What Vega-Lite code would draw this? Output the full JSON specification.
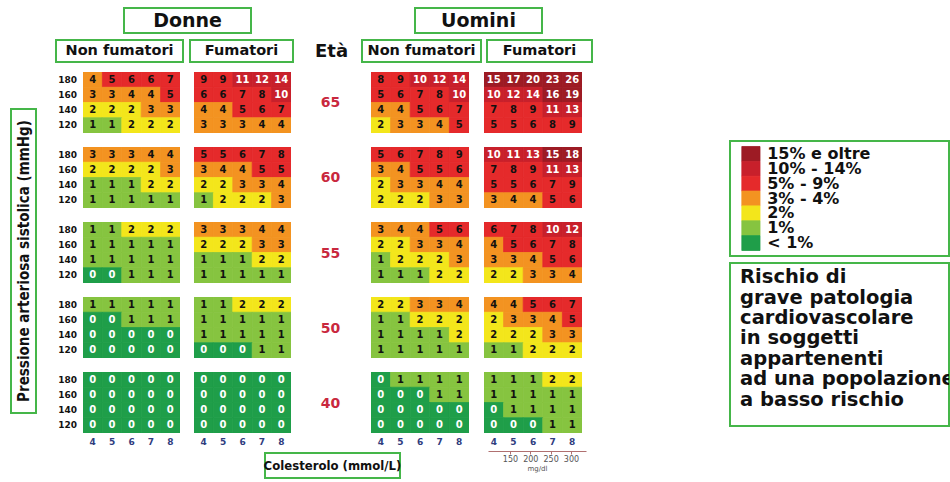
{
"$schema": "https://vega.github.io/schema/vega-lite/v6.json",
"background": "white",
"padding": {"left": 10, "top": 7, "right": 0, "bottom": 0},
"config": {"view": {"stroke": null}, "font": "DejaVu Sans"},
"datasets": {
"score": [
{"sesso":"Donne","fumo":"no","eta":65,"pas":180,"col":4,"rischio":4},{"sesso":"Donne","fumo":"no","eta":65,"pas":180,"col":5,"rischio":5},{"sesso":"Donne","fumo":"no","eta":65,"pas":180,"col":6,"rischio":6},{"sesso":"Donne","fumo":"no","eta":65,"pas":180,"col":7,"rischio":6},{"sesso":"Donne","fumo":"no","eta":65,"pas":180,"col":8,"rischio":7},
{"sesso":"Donne","fumo":"no","eta":65,"pas":160,"col":4,"rischio":3},{"sesso":"Donne","fumo":"no","eta":65,"pas":160,"col":5,"rischio":3},{"sesso":"Donne","fumo":"no","eta":65,"pas":160,"col":6,"rischio":4},{"sesso":"Donne","fumo":"no","eta":65,"pas":160,"col":7,"rischio":4},{"sesso":"Donne","fumo":"no","eta":65,"pas":160,"col":8,"rischio":5},
{"sesso":"Donne","fumo":"no","eta":65,"pas":140,"col":4,"rischio":2},{"sesso":"Donne","fumo":"no","eta":65,"pas":140,"col":5,"rischio":2},{"sesso":"Donne","fumo":"no","eta":65,"pas":140,"col":6,"rischio":2},{"sesso":"Donne","fumo":"no","eta":65,"pas":140,"col":7,"rischio":3},{"sesso":"Donne","fumo":"no","eta":65,"pas":140,"col":8,"rischio":3},
{"sesso":"Donne","fumo":"no","eta":65,"pas":120,"col":4,"rischio":1},{"sesso":"Donne","fumo":"no","eta":65,"pas":120,"col":5,"rischio":1},{"sesso":"Donne","fumo":"no","eta":65,"pas":120,"col":6,"rischio":2},{"sesso":"Donne","fumo":"no","eta":65,"pas":120,"col":7,"rischio":2},{"sesso":"Donne","fumo":"no","eta":65,"pas":120,"col":8,"rischio":2},
{"sesso":"Donne","fumo":"no","eta":60,"pas":180,"col":4,"rischio":3},{"sesso":"Donne","fumo":"no","eta":60,"pas":180,"col":5,"rischio":3},{"sesso":"Donne","fumo":"no","eta":60,"pas":180,"col":6,"rischio":3},{"sesso":"Donne","fumo":"no","eta":60,"pas":180,"col":7,"rischio":4},{"sesso":"Donne","fumo":"no","eta":60,"pas":180,"col":8,"rischio":4},
{"sesso":"Donne","fumo":"no","eta":60,"pas":160,"col":4,"rischio":2},{"sesso":"Donne","fumo":"no","eta":60,"pas":160,"col":5,"rischio":2},{"sesso":"Donne","fumo":"no","eta":60,"pas":160,"col":6,"rischio":2},{"sesso":"Donne","fumo":"no","eta":60,"pas":160,"col":7,"rischio":2},{"sesso":"Donne","fumo":"no","eta":60,"pas":160,"col":8,"rischio":3},
{"sesso":"Donne","fumo":"no","eta":60,"pas":140,"col":4,"rischio":1},{"sesso":"Donne","fumo":"no","eta":60,"pas":140,"col":5,"rischio":1},{"sesso":"Donne","fumo":"no","eta":60,"pas":140,"col":6,"rischio":1},{"sesso":"Donne","fumo":"no","eta":60,"pas":140,"col":7,"rischio":2},{"sesso":"Donne","fumo":"no","eta":60,"pas":140,"col":8,"rischio":2},
{"sesso":"Donne","fumo":"no","eta":60,"pas":120,"col":4,"rischio":1},{"sesso":"Donne","fumo":"no","eta":60,"pas":120,"col":5,"rischio":1},{"sesso":"Donne","fumo":"no","eta":60,"pas":120,"col":6,"rischio":1},{"sesso":"Donne","fumo":"no","eta":60,"pas":120,"col":7,"rischio":1},{"sesso":"Donne","fumo":"no","eta":60,"pas":120,"col":8,"rischio":1},
{"sesso":"Donne","fumo":"no","eta":55,"pas":180,"col":4,"rischio":1},{"sesso":"Donne","fumo":"no","eta":55,"pas":180,"col":5,"rischio":1},{"sesso":"Donne","fumo":"no","eta":55,"pas":180,"col":6,"rischio":2},{"sesso":"Donne","fumo":"no","eta":55,"pas":180,"col":7,"rischio":2},{"sesso":"Donne","fumo":"no","eta":55,"pas":180,"col":8,"rischio":2},
{"sesso":"Donne","fumo":"no","eta":55,"pas":160,"col":4,"rischio":1},{"sesso":"Donne","fumo":"no","eta":55,"pas":160,"col":5,"rischio":1},{"sesso":"Donne","fumo":"no","eta":55,"pas":160,"col":6,"rischio":1},{"sesso":"Donne","fumo":"no","eta":55,"pas":160,"col":7,"rischio":1},{"sesso":"Donne","fumo":"no","eta":55,"pas":160,"col":8,"rischio":1},
{"sesso":"Donne","fumo":"no","eta":55,"pas":140,"col":4,"rischio":1},{"sesso":"Donne","fumo":"no","eta":55,"pas":140,"col":5,"rischio":1},{"sesso":"Donne","fumo":"no","eta":55,"pas":140,"col":6,"rischio":1},{"sesso":"Donne","fumo":"no","eta":55,"pas":140,"col":7,"rischio":1},{"sesso":"Donne","fumo":"no","eta":55,"pas":140,"col":8,"rischio":1},
{"sesso":"Donne","fumo":"no","eta":55,"pas":120,"col":4,"rischio":0},{"sesso":"Donne","fumo":"no","eta":55,"pas":120,"col":5,"rischio":0},{"sesso":"Donne","fumo":"no","eta":55,"pas":120,"col":6,"rischio":1},{"sesso":"Donne","fumo":"no","eta":55,"pas":120,"col":7,"rischio":1},{"sesso":"Donne","fumo":"no","eta":55,"pas":120,"col":8,"rischio":1},
{"sesso":"Donne","fumo":"no","eta":50,"pas":180,"col":4,"rischio":1},{"sesso":"Donne","fumo":"no","eta":50,"pas":180,"col":5,"rischio":1},{"sesso":"Donne","fumo":"no","eta":50,"pas":180,"col":6,"rischio":1},{"sesso":"Donne","fumo":"no","eta":50,"pas":180,"col":7,"rischio":1},{"sesso":"Donne","fumo":"no","eta":50,"pas":180,"col":8,"rischio":1},
{"sesso":"Donne","fumo":"no","eta":50,"pas":160,"col":4,"rischio":0},{"sesso":"Donne","fumo":"no","eta":50,"pas":160,"col":5,"rischio":0},{"sesso":"Donne","fumo":"no","eta":50,"pas":160,"col":6,"rischio":1},{"sesso":"Donne","fumo":"no","eta":50,"pas":160,"col":7,"rischio":1},{"sesso":"Donne","fumo":"no","eta":50,"pas":160,"col":8,"rischio":1},
{"sesso":"Donne","fumo":"no","eta":50,"pas":140,"col":4,"rischio":0},{"sesso":"Donne","fumo":"no","eta":50,"pas":140,"col":5,"rischio":0},{"sesso":"Donne","fumo":"no","eta":50,"pas":140,"col":6,"rischio":0},{"sesso":"Donne","fumo":"no","eta":50,"pas":140,"col":7,"rischio":0},{"sesso":"Donne","fumo":"no","eta":50,"pas":140,"col":8,"rischio":0},
{"sesso":"Donne","fumo":"no","eta":50,"pas":120,"col":4,"rischio":0},{"sesso":"Donne","fumo":"no","eta":50,"pas":120,"col":5,"rischio":0},{"sesso":"Donne","fumo":"no","eta":50,"pas":120,"col":6,"rischio":0},{"sesso":"Donne","fumo":"no","eta":50,"pas":120,"col":7,"rischio":0},{"sesso":"Donne","fumo":"no","eta":50,"pas":120,"col":8,"rischio":0},
{"sesso":"Donne","fumo":"no","eta":40,"pas":180,"col":4,"rischio":0},{"sesso":"Donne","fumo":"no","eta":40,"pas":180,"col":5,"rischio":0},{"sesso":"Donne","fumo":"no","eta":40,"pas":180,"col":6,"rischio":0},{"sesso":"Donne","fumo":"no","eta":40,"pas":180,"col":7,"rischio":0},{"sesso":"Donne","fumo":"no","eta":40,"pas":180,"col":8,"rischio":0},
{"sesso":"Donne","fumo":"no","eta":40,"pas":160,"col":4,"rischio":0},{"sesso":"Donne","fumo":"no","eta":40,"pas":160,"col":5,"rischio":0},{"sesso":"Donne","fumo":"no","eta":40,"pas":160,"col":6,"rischio":0},{"sesso":"Donne","fumo":"no","eta":40,"pas":160,"col":7,"rischio":0},{"sesso":"Donne","fumo":"no","eta":40,"pas":160,"col":8,"rischio":0},
{"sesso":"Donne","fumo":"no","eta":40,"pas":140,"col":4,"rischio":0},{"sesso":"Donne","fumo":"no","eta":40,"pas":140,"col":5,"rischio":0},{"sesso":"Donne","fumo":"no","eta":40,"pas":140,"col":6,"rischio":0},{"sesso":"Donne","fumo":"no","eta":40,"pas":140,"col":7,"rischio":0},{"sesso":"Donne","fumo":"no","eta":40,"pas":140,"col":8,"rischio":0},
{"sesso":"Donne","fumo":"no","eta":40,"pas":120,"col":4,"rischio":0},{"sesso":"Donne","fumo":"no","eta":40,"pas":120,"col":5,"rischio":0},{"sesso":"Donne","fumo":"no","eta":40,"pas":120,"col":6,"rischio":0},{"sesso":"Donne","fumo":"no","eta":40,"pas":120,"col":7,"rischio":0},{"sesso":"Donne","fumo":"no","eta":40,"pas":120,"col":8,"rischio":0},
{"sesso":"Donne","fumo":"sì","eta":65,"pas":180,"col":4,"rischio":9},{"sesso":"Donne","fumo":"sì","eta":65,"pas":180,"col":5,"rischio":9},{"sesso":"Donne","fumo":"sì","eta":65,"pas":180,"col":6,"rischio":11},{"sesso":"Donne","fumo":"sì","eta":65,"pas":180,"col":7,"rischio":12},{"sesso":"Donne","fumo":"sì","eta":65,"pas":180,"col":8,"rischio":14},
{"sesso":"Donne","fumo":"sì","eta":65,"pas":160,"col":4,"rischio":6},{"sesso":"Donne","fumo":"sì","eta":65,"pas":160,"col":5,"rischio":6},{"sesso":"Donne","fumo":"sì","eta":65,"pas":160,"col":6,"rischio":7},{"sesso":"Donne","fumo":"sì","eta":65,"pas":160,"col":7,"rischio":8},{"sesso":"Donne","fumo":"sì","eta":65,"pas":160,"col":8,"rischio":10},
{"sesso":"Donne","fumo":"sì","eta":65,"pas":140,"col":4,"rischio":4},{"sesso":"Donne","fumo":"sì","eta":65,"pas":140,"col":5,"rischio":4},{"sesso":"Donne","fumo":"sì","eta":65,"pas":140,"col":6,"rischio":5},{"sesso":"Donne","fumo":"sì","eta":65,"pas":140,"col":7,"rischio":6},{"sesso":"Donne","fumo":"sì","eta":65,"pas":140,"col":8,"rischio":7},
{"sesso":"Donne","fumo":"sì","eta":65,"pas":120,"col":4,"rischio":3},{"sesso":"Donne","fumo":"sì","eta":65,"pas":120,"col":5,"rischio":3},{"sesso":"Donne","fumo":"sì","eta":65,"pas":120,"col":6,"rischio":3},{"sesso":"Donne","fumo":"sì","eta":65,"pas":120,"col":7,"rischio":4},{"sesso":"Donne","fumo":"sì","eta":65,"pas":120,"col":8,"rischio":4},
{"sesso":"Donne","fumo":"sì","eta":60,"pas":180,"col":4,"rischio":5},{"sesso":"Donne","fumo":"sì","eta":60,"pas":180,"col":5,"rischio":5},{"sesso":"Donne","fumo":"sì","eta":60,"pas":180,"col":6,"rischio":6},{"sesso":"Donne","fumo":"sì","eta":60,"pas":180,"col":7,"rischio":7},{"sesso":"Donne","fumo":"sì","eta":60,"pas":180,"col":8,"rischio":8},
{"sesso":"Donne","fumo":"sì","eta":60,"pas":160,"col":4,"rischio":3},{"sesso":"Donne","fumo":"sì","eta":60,"pas":160,"col":5,"rischio":4},{"sesso":"Donne","fumo":"sì","eta":60,"pas":160,"col":6,"rischio":4},{"sesso":"Donne","fumo":"sì","eta":60,"pas":160,"col":7,"rischio":5},{"sesso":"Donne","fumo":"sì","eta":60,"pas":160,"col":8,"rischio":5},
{"sesso":"Donne","fumo":"sì","eta":60,"pas":140,"col":4,"rischio":2},{"sesso":"Donne","fumo":"sì","eta":60,"pas":140,"col":5,"rischio":2},{"sesso":"Donne","fumo":"sì","eta":60,"pas":140,"col":6,"rischio":3},{"sesso":"Donne","fumo":"sì","eta":60,"pas":140,"col":7,"rischio":3},{"sesso":"Donne","fumo":"sì","eta":60,"pas":140,"col":8,"rischio":4},
{"sesso":"Donne","fumo":"sì","eta":60,"pas":120,"col":4,"rischio":1},{"sesso":"Donne","fumo":"sì","eta":60,"pas":120,"col":5,"rischio":2},{"sesso":"Donne","fumo":"sì","eta":60,"pas":120,"col":6,"rischio":2},{"sesso":"Donne","fumo":"sì","eta":60,"pas":120,"col":7,"rischio":2},{"sesso":"Donne","fumo":"sì","eta":60,"pas":120,"col":8,"rischio":3},
{"sesso":"Donne","fumo":"sì","eta":55,"pas":180,"col":4,"rischio":3},{"sesso":"Donne","fumo":"sì","eta":55,"pas":180,"col":5,"rischio":3},{"sesso":"Donne","fumo":"sì","eta":55,"pas":180,"col":6,"rischio":3},{"sesso":"Donne","fumo":"sì","eta":55,"pas":180,"col":7,"rischio":4},{"sesso":"Donne","fumo":"sì","eta":55,"pas":180,"col":8,"rischio":4},
{"sesso":"Donne","fumo":"sì","eta":55,"pas":160,"col":4,"rischio":2},{"sesso":"Donne","fumo":"sì","eta":55,"pas":160,"col":5,"rischio":2},{"sesso":"Donne","fumo":"sì","eta":55,"pas":160,"col":6,"rischio":2},{"sesso":"Donne","fumo":"sì","eta":55,"pas":160,"col":7,"rischio":3},{"sesso":"Donne","fumo":"sì","eta":55,"pas":160,"col":8,"rischio":3},
{"sesso":"Donne","fumo":"sì","eta":55,"pas":140,"col":4,"rischio":1},{"sesso":"Donne","fumo":"sì","eta":55,"pas":140,"col":5,"rischio":1},{"sesso":"Donne","fumo":"sì","eta":55,"pas":140,"col":6,"rischio":1},{"sesso":"Donne","fumo":"sì","eta":55,"pas":140,"col":7,"rischio":2},{"sesso":"Donne","fumo":"sì","eta":55,"pas":140,"col":8,"rischio":2},
{"sesso":"Donne","fumo":"sì","eta":55,"pas":120,"col":4,"rischio":1},{"sesso":"Donne","fumo":"sì","eta":55,"pas":120,"col":5,"rischio":1},{"sesso":"Donne","fumo":"sì","eta":55,"pas":120,"col":6,"rischio":1},{"sesso":"Donne","fumo":"sì","eta":55,"pas":120,"col":7,"rischio":1},{"sesso":"Donne","fumo":"sì","eta":55,"pas":120,"col":8,"rischio":1},
{"sesso":"Donne","fumo":"sì","eta":50,"pas":180,"col":4,"rischio":1},{"sesso":"Donne","fumo":"sì","eta":50,"pas":180,"col":5,"rischio":1},{"sesso":"Donne","fumo":"sì","eta":50,"pas":180,"col":6,"rischio":2},{"sesso":"Donne","fumo":"sì","eta":50,"pas":180,"col":7,"rischio":2},{"sesso":"Donne","fumo":"sì","eta":50,"pas":180,"col":8,"rischio":2},
{"sesso":"Donne","fumo":"sì","eta":50,"pas":160,"col":4,"rischio":1},{"sesso":"Donne","fumo":"sì","eta":50,"pas":160,"col":5,"rischio":1},{"sesso":"Donne","fumo":"sì","eta":50,"pas":160,"col":6,"rischio":1},{"sesso":"Donne","fumo":"sì","eta":50,"pas":160,"col":7,"rischio":1},{"sesso":"Donne","fumo":"sì","eta":50,"pas":160,"col":8,"rischio":1},
{"sesso":"Donne","fumo":"sì","eta":50,"pas":140,"col":4,"rischio":1},{"sesso":"Donne","fumo":"sì","eta":50,"pas":140,"col":5,"rischio":1},{"sesso":"Donne","fumo":"sì","eta":50,"pas":140,"col":6,"rischio":1},{"sesso":"Donne","fumo":"sì","eta":50,"pas":140,"col":7,"rischio":1},{"sesso":"Donne","fumo":"sì","eta":50,"pas":140,"col":8,"rischio":1},
{"sesso":"Donne","fumo":"sì","eta":50,"pas":120,"col":4,"rischio":0},{"sesso":"Donne","fumo":"sì","eta":50,"pas":120,"col":5,"rischio":0},{"sesso":"Donne","fumo":"sì","eta":50,"pas":120,"col":6,"rischio":0},{"sesso":"Donne","fumo":"sì","eta":50,"pas":120,"col":7,"rischio":1},{"sesso":"Donne","fumo":"sì","eta":50,"pas":120,"col":8,"rischio":1},
{"sesso":"Donne","fumo":"sì","eta":40,"pas":180,"col":4,"rischio":0},{"sesso":"Donne","fumo":"sì","eta":40,"pas":180,"col":5,"rischio":0},{"sesso":"Donne","fumo":"sì","eta":40,"pas":180,"col":6,"rischio":0},{"sesso":"Donne","fumo":"sì","eta":40,"pas":180,"col":7,"rischio":0},{"sesso":"Donne","fumo":"sì","eta":40,"pas":180,"col":8,"rischio":0},
{"sesso":"Donne","fumo":"sì","eta":40,"pas":160,"col":4,"rischio":0},{"sesso":"Donne","fumo":"sì","eta":40,"pas":160,"col":5,"rischio":0},{"sesso":"Donne","fumo":"sì","eta":40,"pas":160,"col":6,"rischio":0},{"sesso":"Donne","fumo":"sì","eta":40,"pas":160,"col":7,"rischio":0},{"sesso":"Donne","fumo":"sì","eta":40,"pas":160,"col":8,"rischio":0},
{"sesso":"Donne","fumo":"sì","eta":40,"pas":140,"col":4,"rischio":0},{"sesso":"Donne","fumo":"sì","eta":40,"pas":140,"col":5,"rischio":0},{"sesso":"Donne","fumo":"sì","eta":40,"pas":140,"col":6,"rischio":0},{"sesso":"Donne","fumo":"sì","eta":40,"pas":140,"col":7,"rischio":0},{"sesso":"Donne","fumo":"sì","eta":40,"pas":140,"col":8,"rischio":0},
{"sesso":"Donne","fumo":"sì","eta":40,"pas":120,"col":4,"rischio":0},{"sesso":"Donne","fumo":"sì","eta":40,"pas":120,"col":5,"rischio":0},{"sesso":"Donne","fumo":"sì","eta":40,"pas":120,"col":6,"rischio":0},{"sesso":"Donne","fumo":"sì","eta":40,"pas":120,"col":7,"rischio":0},{"sesso":"Donne","fumo":"sì","eta":40,"pas":120,"col":8,"rischio":0},
{"sesso":"Uomini","fumo":"no","eta":65,"pas":180,"col":4,"rischio":8},{"sesso":"Uomini","fumo":"no","eta":65,"pas":180,"col":5,"rischio":9},{"sesso":"Uomini","fumo":"no","eta":65,"pas":180,"col":6,"rischio":10},{"sesso":"Uomini","fumo":"no","eta":65,"pas":180,"col":7,"rischio":12},{"sesso":"Uomini","fumo":"no","eta":65,"pas":180,"col":8,"rischio":14},
{"sesso":"Uomini","fumo":"no","eta":65,"pas":160,"col":4,"rischio":5},{"sesso":"Uomini","fumo":"no","eta":65,"pas":160,"col":5,"rischio":6},{"sesso":"Uomini","fumo":"no","eta":65,"pas":160,"col":6,"rischio":7},{"sesso":"Uomini","fumo":"no","eta":65,"pas":160,"col":7,"rischio":8},{"sesso":"Uomini","fumo":"no","eta":65,"pas":160,"col":8,"rischio":10},
{"sesso":"Uomini","fumo":"no","eta":65,"pas":140,"col":4,"rischio":4},{"sesso":"Uomini","fumo":"no","eta":65,"pas":140,"col":5,"rischio":4},{"sesso":"Uomini","fumo":"no","eta":65,"pas":140,"col":6,"rischio":5},{"sesso":"Uomini","fumo":"no","eta":65,"pas":140,"col":7,"rischio":6},{"sesso":"Uomini","fumo":"no","eta":65,"pas":140,"col":8,"rischio":7},
{"sesso":"Uomini","fumo":"no","eta":65,"pas":120,"col":4,"rischio":2},{"sesso":"Uomini","fumo":"no","eta":65,"pas":120,"col":5,"rischio":3},{"sesso":"Uomini","fumo":"no","eta":65,"pas":120,"col":6,"rischio":3},{"sesso":"Uomini","fumo":"no","eta":65,"pas":120,"col":7,"rischio":4},{"sesso":"Uomini","fumo":"no","eta":65,"pas":120,"col":8,"rischio":5},
{"sesso":"Uomini","fumo":"no","eta":60,"pas":180,"col":4,"rischio":5},{"sesso":"Uomini","fumo":"no","eta":60,"pas":180,"col":5,"rischio":6},{"sesso":"Uomini","fumo":"no","eta":60,"pas":180,"col":6,"rischio":7},{"sesso":"Uomini","fumo":"no","eta":60,"pas":180,"col":7,"rischio":8},{"sesso":"Uomini","fumo":"no","eta":60,"pas":180,"col":8,"rischio":9},
{"sesso":"Uomini","fumo":"no","eta":60,"pas":160,"col":4,"rischio":3},{"sesso":"Uomini","fumo":"no","eta":60,"pas":160,"col":5,"rischio":4},{"sesso":"Uomini","fumo":"no","eta":60,"pas":160,"col":6,"rischio":5},{"sesso":"Uomini","fumo":"no","eta":60,"pas":160,"col":7,"rischio":5},{"sesso":"Uomini","fumo":"no","eta":60,"pas":160,"col":8,"rischio":6},
{"sesso":"Uomini","fumo":"no","eta":60,"pas":140,"col":4,"rischio":2},{"sesso":"Uomini","fumo":"no","eta":60,"pas":140,"col":5,"rischio":3},{"sesso":"Uomini","fumo":"no","eta":60,"pas":140,"col":6,"rischio":3},{"sesso":"Uomini","fumo":"no","eta":60,"pas":140,"col":7,"rischio":4},{"sesso":"Uomini","fumo":"no","eta":60,"pas":140,"col":8,"rischio":4},
{"sesso":"Uomini","fumo":"no","eta":60,"pas":120,"col":4,"rischio":2},{"sesso":"Uomini","fumo":"no","eta":60,"pas":120,"col":5,"rischio":2},{"sesso":"Uomini","fumo":"no","eta":60,"pas":120,"col":6,"rischio":2},{"sesso":"Uomini","fumo":"no","eta":60,"pas":120,"col":7,"rischio":3},{"sesso":"Uomini","fumo":"no","eta":60,"pas":120,"col":8,"rischio":3},
{"sesso":"Uomini","fumo":"no","eta":55,"pas":180,"col":4,"rischio":3},{"sesso":"Uomini","fumo":"no","eta":55,"pas":180,"col":5,"rischio":4},{"sesso":"Uomini","fumo":"no","eta":55,"pas":180,"col":6,"rischio":4},{"sesso":"Uomini","fumo":"no","eta":55,"pas":180,"col":7,"rischio":5},{"sesso":"Uomini","fumo":"no","eta":55,"pas":180,"col":8,"rischio":6},
{"sesso":"Uomini","fumo":"no","eta":55,"pas":160,"col":4,"rischio":2},{"sesso":"Uomini","fumo":"no","eta":55,"pas":160,"col":5,"rischio":2},{"sesso":"Uomini","fumo":"no","eta":55,"pas":160,"col":6,"rischio":3},{"sesso":"Uomini","fumo":"no","eta":55,"pas":160,"col":7,"rischio":3},{"sesso":"Uomini","fumo":"no","eta":55,"pas":160,"col":8,"rischio":4},
{"sesso":"Uomini","fumo":"no","eta":55,"pas":140,"col":4,"rischio":1},{"sesso":"Uomini","fumo":"no","eta":55,"pas":140,"col":5,"rischio":2},{"sesso":"Uomini","fumo":"no","eta":55,"pas":140,"col":6,"rischio":2},{"sesso":"Uomini","fumo":"no","eta":55,"pas":140,"col":7,"rischio":2},{"sesso":"Uomini","fumo":"no","eta":55,"pas":140,"col":8,"rischio":3},
{"sesso":"Uomini","fumo":"no","eta":55,"pas":120,"col":4,"rischio":1},{"sesso":"Uomini","fumo":"no","eta":55,"pas":120,"col":5,"rischio":1},{"sesso":"Uomini","fumo":"no","eta":55,"pas":120,"col":6,"rischio":1},{"sesso":"Uomini","fumo":"no","eta":55,"pas":120,"col":7,"rischio":2},{"sesso":"Uomini","fumo":"no","eta":55,"pas":120,"col":8,"rischio":2},
{"sesso":"Uomini","fumo":"no","eta":50,"pas":180,"col":4,"rischio":2},{"sesso":"Uomini","fumo":"no","eta":50,"pas":180,"col":5,"rischio":2},{"sesso":"Uomini","fumo":"no","eta":50,"pas":180,"col":6,"rischio":3},{"sesso":"Uomini","fumo":"no","eta":50,"pas":180,"col":7,"rischio":3},{"sesso":"Uomini","fumo":"no","eta":50,"pas":180,"col":8,"rischio":4},
{"sesso":"Uomini","fumo":"no","eta":50,"pas":160,"col":4,"rischio":1},{"sesso":"Uomini","fumo":"no","eta":50,"pas":160,"col":5,"rischio":1},{"sesso":"Uomini","fumo":"no","eta":50,"pas":160,"col":6,"rischio":2},{"sesso":"Uomini","fumo":"no","eta":50,"pas":160,"col":7,"rischio":2},{"sesso":"Uomini","fumo":"no","eta":50,"pas":160,"col":8,"rischio":2},
{"sesso":"Uomini","fumo":"no","eta":50,"pas":140,"col":4,"rischio":1},{"sesso":"Uomini","fumo":"no","eta":50,"pas":140,"col":5,"rischio":1},{"sesso":"Uomini","fumo":"no","eta":50,"pas":140,"col":6,"rischio":1},{"sesso":"Uomini","fumo":"no","eta":50,"pas":140,"col":7,"rischio":1},{"sesso":"Uomini","fumo":"no","eta":50,"pas":140,"col":8,"rischio":2},
{"sesso":"Uomini","fumo":"no","eta":50,"pas":120,"col":4,"rischio":1},{"sesso":"Uomini","fumo":"no","eta":50,"pas":120,"col":5,"rischio":1},{"sesso":"Uomini","fumo":"no","eta":50,"pas":120,"col":6,"rischio":1},{"sesso":"Uomini","fumo":"no","eta":50,"pas":120,"col":7,"rischio":1},{"sesso":"Uomini","fumo":"no","eta":50,"pas":120,"col":8,"rischio":1},
{"sesso":"Uomini","fumo":"no","eta":40,"pas":180,"col":4,"rischio":0},{"sesso":"Uomini","fumo":"no","eta":40,"pas":180,"col":5,"rischio":1},{"sesso":"Uomini","fumo":"no","eta":40,"pas":180,"col":6,"rischio":1},{"sesso":"Uomini","fumo":"no","eta":40,"pas":180,"col":7,"rischio":1},{"sesso":"Uomini","fumo":"no","eta":40,"pas":180,"col":8,"rischio":1},
{"sesso":"Uomini","fumo":"no","eta":40,"pas":160,"col":4,"rischio":0},{"sesso":"Uomini","fumo":"no","eta":40,"pas":160,"col":5,"rischio":0},{"sesso":"Uomini","fumo":"no","eta":40,"pas":160,"col":6,"rischio":0},{"sesso":"Uomini","fumo":"no","eta":40,"pas":160,"col":7,"rischio":1},{"sesso":"Uomini","fumo":"no","eta":40,"pas":160,"col":8,"rischio":1},
{"sesso":"Uomini","fumo":"no","eta":40,"pas":140,"col":4,"rischio":0},{"sesso":"Uomini","fumo":"no","eta":40,"pas":140,"col":5,"rischio":0},{"sesso":"Uomini","fumo":"no","eta":40,"pas":140,"col":6,"rischio":0},{"sesso":"Uomini","fumo":"no","eta":40,"pas":140,"col":7,"rischio":0},{"sesso":"Uomini","fumo":"no","eta":40,"pas":140,"col":8,"rischio":0},
{"sesso":"Uomini","fumo":"no","eta":40,"pas":120,"col":4,"rischio":0},{"sesso":"Uomini","fumo":"no","eta":40,"pas":120,"col":5,"rischio":0},{"sesso":"Uomini","fumo":"no","eta":40,"pas":120,"col":6,"rischio":0},{"sesso":"Uomini","fumo":"no","eta":40,"pas":120,"col":7,"rischio":0},{"sesso":"Uomini","fumo":"no","eta":40,"pas":120,"col":8,"rischio":0},
{"sesso":"Uomini","fumo":"sì","eta":65,"pas":180,"col":4,"rischio":15},{"sesso":"Uomini","fumo":"sì","eta":65,"pas":180,"col":5,"rischio":17},{"sesso":"Uomini","fumo":"sì","eta":65,"pas":180,"col":6,"rischio":20},{"sesso":"Uomini","fumo":"sì","eta":65,"pas":180,"col":7,"rischio":23},{"sesso":"Uomini","fumo":"sì","eta":65,"pas":180,"col":8,"rischio":26},
{"sesso":"Uomini","fumo":"sì","eta":65,"pas":160,"col":4,"rischio":10},{"sesso":"Uomini","fumo":"sì","eta":65,"pas":160,"col":5,"rischio":12},{"sesso":"Uomini","fumo":"sì","eta":65,"pas":160,"col":6,"rischio":14},{"sesso":"Uomini","fumo":"sì","eta":65,"pas":160,"col":7,"rischio":16},{"sesso":"Uomini","fumo":"sì","eta":65,"pas":160,"col":8,"rischio":19},
{"sesso":"Uomini","fumo":"sì","eta":65,"pas":140,"col":4,"rischio":7},{"sesso":"Uomini","fumo":"sì","eta":65,"pas":140,"col":5,"rischio":8},{"sesso":"Uomini","fumo":"sì","eta":65,"pas":140,"col":6,"rischio":9},{"sesso":"Uomini","fumo":"sì","eta":65,"pas":140,"col":7,"rischio":11},{"sesso":"Uomini","fumo":"sì","eta":65,"pas":140,"col":8,"rischio":13},
{"sesso":"Uomini","fumo":"sì","eta":65,"pas":120,"col":4,"rischio":5},{"sesso":"Uomini","fumo":"sì","eta":65,"pas":120,"col":5,"rischio":5},{"sesso":"Uomini","fumo":"sì","eta":65,"pas":120,"col":6,"rischio":6},{"sesso":"Uomini","fumo":"sì","eta":65,"pas":120,"col":7,"rischio":8},{"sesso":"Uomini","fumo":"sì","eta":65,"pas":120,"col":8,"rischio":9},
{"sesso":"Uomini","fumo":"sì","eta":60,"pas":180,"col":4,"rischio":10},{"sesso":"Uomini","fumo":"sì","eta":60,"pas":180,"col":5,"rischio":11},{"sesso":"Uomini","fumo":"sì","eta":60,"pas":180,"col":6,"rischio":13},{"sesso":"Uomini","fumo":"sì","eta":60,"pas":180,"col":7,"rischio":15},{"sesso":"Uomini","fumo":"sì","eta":60,"pas":180,"col":8,"rischio":18},
{"sesso":"Uomini","fumo":"sì","eta":60,"pas":160,"col":4,"rischio":7},{"sesso":"Uomini","fumo":"sì","eta":60,"pas":160,"col":5,"rischio":8},{"sesso":"Uomini","fumo":"sì","eta":60,"pas":160,"col":6,"rischio":9},{"sesso":"Uomini","fumo":"sì","eta":60,"pas":160,"col":7,"rischio":11},{"sesso":"Uomini","fumo":"sì","eta":60,"pas":160,"col":8,"rischio":13},
{"sesso":"Uomini","fumo":"sì","eta":60,"pas":140,"col":4,"rischio":5},{"sesso":"Uomini","fumo":"sì","eta":60,"pas":140,"col":5,"rischio":5},{"sesso":"Uomini","fumo":"sì","eta":60,"pas":140,"col":6,"rischio":6},{"sesso":"Uomini","fumo":"sì","eta":60,"pas":140,"col":7,"rischio":7},{"sesso":"Uomini","fumo":"sì","eta":60,"pas":140,"col":8,"rischio":9},
{"sesso":"Uomini","fumo":"sì","eta":60,"pas":120,"col":4,"rischio":3},{"sesso":"Uomini","fumo":"sì","eta":60,"pas":120,"col":5,"rischio":4},{"sesso":"Uomini","fumo":"sì","eta":60,"pas":120,"col":6,"rischio":4},{"sesso":"Uomini","fumo":"sì","eta":60,"pas":120,"col":7,"rischio":5},{"sesso":"Uomini","fumo":"sì","eta":60,"pas":120,"col":8,"rischio":6},
{"sesso":"Uomini","fumo":"sì","eta":55,"pas":180,"col":4,"rischio":6},{"sesso":"Uomini","fumo":"sì","eta":55,"pas":180,"col":5,"rischio":7},{"sesso":"Uomini","fumo":"sì","eta":55,"pas":180,"col":6,"rischio":8},{"sesso":"Uomini","fumo":"sì","eta":55,"pas":180,"col":7,"rischio":10},{"sesso":"Uomini","fumo":"sì","eta":55,"pas":180,"col":8,"rischio":12},
{"sesso":"Uomini","fumo":"sì","eta":55,"pas":160,"col":4,"rischio":4},{"sesso":"Uomini","fumo":"sì","eta":55,"pas":160,"col":5,"rischio":5},{"sesso":"Uomini","fumo":"sì","eta":55,"pas":160,"col":6,"rischio":6},{"sesso":"Uomini","fumo":"sì","eta":55,"pas":160,"col":7,"rischio":7},{"sesso":"Uomini","fumo":"sì","eta":55,"pas":160,"col":8,"rischio":8},
{"sesso":"Uomini","fumo":"sì","eta":55,"pas":140,"col":4,"rischio":3},{"sesso":"Uomini","fumo":"sì","eta":55,"pas":140,"col":5,"rischio":3},{"sesso":"Uomini","fumo":"sì","eta":55,"pas":140,"col":6,"rischio":4},{"sesso":"Uomini","fumo":"sì","eta":55,"pas":140,"col":7,"rischio":5},{"sesso":"Uomini","fumo":"sì","eta":55,"pas":140,"col":8,"rischio":6},
{"sesso":"Uomini","fumo":"sì","eta":55,"pas":120,"col":4,"rischio":2},{"sesso":"Uomini","fumo":"sì","eta":55,"pas":120,"col":5,"rischio":2},{"sesso":"Uomini","fumo":"sì","eta":55,"pas":120,"col":6,"rischio":3},{"sesso":"Uomini","fumo":"sì","eta":55,"pas":120,"col":7,"rischio":3},{"sesso":"Uomini","fumo":"sì","eta":55,"pas":120,"col":8,"rischio":4},
{"sesso":"Uomini","fumo":"sì","eta":50,"pas":180,"col":4,"rischio":4},{"sesso":"Uomini","fumo":"sì","eta":50,"pas":180,"col":5,"rischio":4},{"sesso":"Uomini","fumo":"sì","eta":50,"pas":180,"col":6,"rischio":5},{"sesso":"Uomini","fumo":"sì","eta":50,"pas":180,"col":7,"rischio":6},{"sesso":"Uomini","fumo":"sì","eta":50,"pas":180,"col":8,"rischio":7},
{"sesso":"Uomini","fumo":"sì","eta":50,"pas":160,"col":4,"rischio":2},{"sesso":"Uomini","fumo":"sì","eta":50,"pas":160,"col":5,"rischio":3},{"sesso":"Uomini","fumo":"sì","eta":50,"pas":160,"col":6,"rischio":3},{"sesso":"Uomini","fumo":"sì","eta":50,"pas":160,"col":7,"rischio":4},{"sesso":"Uomini","fumo":"sì","eta":50,"pas":160,"col":8,"rischio":5},
{"sesso":"Uomini","fumo":"sì","eta":50,"pas":140,"col":4,"rischio":2},{"sesso":"Uomini","fumo":"sì","eta":50,"pas":140,"col":5,"rischio":2},{"sesso":"Uomini","fumo":"sì","eta":50,"pas":140,"col":6,"rischio":2},{"sesso":"Uomini","fumo":"sì","eta":50,"pas":140,"col":7,"rischio":3},{"sesso":"Uomini","fumo":"sì","eta":50,"pas":140,"col":8,"rischio":3},
{"sesso":"Uomini","fumo":"sì","eta":50,"pas":120,"col":4,"rischio":1},{"sesso":"Uomini","fumo":"sì","eta":50,"pas":120,"col":5,"rischio":1},{"sesso":"Uomini","fumo":"sì","eta":50,"pas":120,"col":6,"rischio":2},{"sesso":"Uomini","fumo":"sì","eta":50,"pas":120,"col":7,"rischio":2},{"sesso":"Uomini","fumo":"sì","eta":50,"pas":120,"col":8,"rischio":2},
{"sesso":"Uomini","fumo":"sì","eta":40,"pas":180,"col":4,"rischio":1},{"sesso":"Uomini","fumo":"sì","eta":40,"pas":180,"col":5,"rischio":1},{"sesso":"Uomini","fumo":"sì","eta":40,"pas":180,"col":6,"rischio":1},{"sesso":"Uomini","fumo":"sì","eta":40,"pas":180,"col":7,"rischio":2},{"sesso":"Uomini","fumo":"sì","eta":40,"pas":180,"col":8,"rischio":2},
{"sesso":"Uomini","fumo":"sì","eta":40,"pas":160,"col":4,"rischio":1},{"sesso":"Uomini","fumo":"sì","eta":40,"pas":160,"col":5,"rischio":1},{"sesso":"Uomini","fumo":"sì","eta":40,"pas":160,"col":6,"rischio":1},{"sesso":"Uomini","fumo":"sì","eta":40,"pas":160,"col":7,"rischio":1},{"sesso":"Uomini","fumo":"sì","eta":40,"pas":160,"col":8,"rischio":1},
{"sesso":"Uomini","fumo":"sì","eta":40,"pas":140,"col":4,"rischio":0},{"sesso":"Uomini","fumo":"sì","eta":40,"pas":140,"col":5,"rischio":1},{"sesso":"Uomini","fumo":"sì","eta":40,"pas":140,"col":6,"rischio":1},{"sesso":"Uomini","fumo":"sì","eta":40,"pas":140,"col":7,"rischio":1},{"sesso":"Uomini","fumo":"sì","eta":40,"pas":140,"col":8,"rischio":1},
{"sesso":"Uomini","fumo":"sì","eta":40,"pas":120,"col":4,"rischio":0},{"sesso":"Uomini","fumo":"sì","eta":40,"pas":120,"col":5,"rischio":0},{"sesso":"Uomini","fumo":"sì","eta":40,"pas":120,"col":6,"rischio":0},{"sesso":"Uomini","fumo":"sì","eta":40,"pas":120,"col":7,"rischio":1},{"sesso":"Uomini","fumo":"sì","eta":40,"pas":120,"col":8,"rischio":1}
],
"legenda": [
{"categoria":"15% e oltre","soglia":15},{"categoria":"10% - 14%","soglia":10},{"categoria":"5% - 9%","soglia":5},{"categoria":"3% - 4%","soglia":3},{"categoria":"2%","soglia":2},{"categoria":"1%","soglia":1},{"categoria":"< 1%","soglia":0}
],
"nota": [
{"riga":1,"testo":"Rischio di"},{"riga":2,"testo":"grave patologia"},{"riga":3,"testo":"cardiovascolare"},{"riga":4,"testo":"in soggetti"},{"riga":5,"testo":"appartenenti"},{"riga":6,"testo":"ad una popolazione"},{"riga":7,"testo":"a basso rischio"}
]
},
"spacing": 4,
"vconcat": [
{"spacing": 0, "hconcat": [
  {"spacing": 0, "vconcat": [
    {"width": 25, "height": 100, "data": {"values": []}, "mark": "point"},
    {"width": 25, "height": 304, "view": {"stroke": "#45b649", "strokeWidth": 2}, "data": {"values": [{"t": "Pressione arteriosa sistolica (mmHg)"}]}, "mark": {"type": "text", "angle": 270, "font": "DejaVu Sans Condensed", "fontWeight": "bold", "fontSize": 15, "baseline": "middle", "color": "#111"}, "encoding": {"text": {"field": "t"}}}
  ]},
  {"width": 18, "height": 10, "data": {"values": []}, "mark": "point"},
  {"spacing": 0, "vconcat": [
    {"spacing": 0, "hconcat": [
      {"width": 67, "height": 25, "data": {"values": []}, "mark": "point"},
      {"width": 127, "height": 25, "view": {"stroke": "#45b649", "strokeWidth": 2}, "data": {"values": [{"t": "Donne"}]}, "mark": {"type": "text", "fontWeight": "bold", "fontSize": 19, "baseline": "middle", "color": "#111"}, "encoding": {"text": {"field": "t"}}}
    ]},
    {"width": 10, "height": 5, "data": {"values": []}, "mark": "point"},
    {"spacing": 0, "hconcat": [
      {"width": 127, "height": 22, "view": {"stroke": "#45b649", "strokeWidth": 2}, "data": {"values": [{"t": "Non fumatori"}]}, "mark": {"type": "text", "fontWeight": "bold", "fontSize": 14.5, "baseline": "middle", "color": "#111"}, "encoding": {"text": {"field": "t"}}},
      {"width": 5, "height": 22, "data": {"values": []}, "mark": "point"},
      {"width": 103, "height": 22, "view": {"stroke": "#45b649", "strokeWidth": 2}, "data": {"values": [{"t": "Fumatori"}]}, "mark": {"type": "text", "fontWeight": "bold", "fontSize": 14.5, "baseline": "middle", "color": "#111"}, "encoding": {"text": {"field": "t"}}}
    ]},
    {"width": 10, "height": 9, "data": {"values": []}, "mark": "point"},
    {"spacing": 0, "hconcat": [
      {
        "data": {"name": "score"},
        "transform": [{"filter": "datum.sesso === 'Donne'"}, {"aggregate": [], "groupby": ["eta", "pas"]}],
        "facet": {"row": {"field": "eta", "type": "ordinal", "sort": "descending", "header": {"labels": false, "title": null}}},
        "spacing": {"row": 14},
        "spec": {
          "width": 27, "height": 61,
          "mark": {"type": "text", "align": "right", "baseline": "middle", "fontWeight": "bold", "fontSize": 9, "color": "#111"},
          "encoding": {
            "x": {"datum": 0.78, "type": "quantitative", "scale": {"domain": [0, 1]}, "axis": null},
            "y": {"field": "pas", "type": "ordinal", "sort": "descending", "scale": {"type": "band", "paddingInner": 0, "paddingOuter": 0}, "axis": null},
            "text": {"field": "pas"}
          }
        }
      },
      {
        "data": {"name": "score"},
        "transform": [{"filter": "datum.sesso === 'Donne'"}],
        "facet": {
          "row": {"field": "eta", "type": "ordinal", "sort": "descending", "header": {"labels": false, "title": null}},
          "column": {"field": "fumo", "type": "nominal", "sort": ["no", "sì"], "header": {"labels": false, "title": null}}
        },
        "spacing": {"row": 14, "column": 14},
        "spec": {
          "width": 97, "height": 61,
          "encoding": {
            "x": {"field": "col", "type": "ordinal", "scale": {"paddingInner": 0, "paddingOuter": 0}, "axis": {"title": null, "labelAngle": 0, "ticks": false, "domain": false, "labelFontWeight": "bold", "labelFontSize": 9, "labelColor": "#2f3c7e", "labelPadding": 4}},
            "y": {"field": "pas", "type": "ordinal", "sort": "descending", "scale": {"paddingInner": 0, "paddingOuter": 0}, "axis": null}
          },
          "layer": [
            {"mark": {"type": "rect", "strokeWidth": 0.8, "clip": true}, "encoding": {
              "color": {"field": "rischio", "type": "quantitative", "scale": {"type": "threshold", "domain": [1, 2, 3, 5, 10, 15], "range": ["#1f9e49", "#86c440", "#f3e61b", "#f39321", "#e52a2b", "#c8202b", "#9d1b24"]}, "legend": null},
              "stroke": {"field": "rischio", "type": "quantitative", "scale": {"type": "threshold", "domain": [1, 2, 3, 5, 10, 15], "range": ["#1f9e49", "#86c440", "#f3e61b", "#f39321", "#e52a2b", "#c8202b", "#9d1b24"]}, "legend": null}}},
            {"mark": {"type": "text", "fontWeight": "bold", "fontSize": 10}, "encoding": {"text": {"field": "rischio"}, "color": {"condition": {"test": "datum.rischio === 0 || datum.rischio >= 10", "value": "#ffffff"}, "value": "#111111"}}}
          ]
        }
      }
    ]}
  ]},
  {"spacing": 0, "vconcat": [
    {"width": 67, "height": 33, "data": {"values": []}, "mark": "point"},
    {"width": 67, "height": 22, "data": {"values": [{"t": "Età"}]}, "mark": {"type": "text", "fontWeight": "bold", "fontSize": 18, "baseline": "middle", "dx": 4, "color": "#111"}, "encoding": {"text": {"field": "t"}}},
    {"width": 67, "height": 10, "data": {"values": []}, "mark": "point"},
    {"width": 67, "height": 361, "data": {"name": "score"}, "transform": [{"aggregate": [], "groupby": ["eta"]}], "mark": {"type": "text", "fontWeight": "bold", "fontSize": 14, "color": "#c9283e", "dx": 3}, "encoding": {"y": {"field": "eta", "type": "ordinal", "sort": "descending", "scale": {"type": "band", "paddingInner": 0.1867, "paddingOuter": 0}, "axis": null}, "text": {"field": "eta"}}}
  ]},
  {"spacing": 0, "vconcat": [
    {"spacing": 0, "hconcat": [
      {"width": 52, "height": 25, "data": {"values": []}, "mark": "point"},
      {"width": 127, "height": 25, "view": {"stroke": "#45b649", "strokeWidth": 2}, "data": {"values": [{"t": "Uomini"}]}, "mark": {"type": "text", "fontWeight": "bold", "fontSize": 19, "baseline": "middle", "color": "#111"}, "encoding": {"text": {"field": "t"}}}
    ]},
    {"width": 10, "height": 5, "data": {"values": []}, "mark": "point"},
    {"spacing": 0, "hconcat": [
      {"width": 119, "height": 22, "view": {"stroke": "#45b649", "strokeWidth": 2}, "data": {"values": [{"t": "Non fumatori"}]}, "mark": {"type": "text", "fontWeight": "bold", "fontSize": 14.5, "baseline": "middle", "color": "#111"}, "encoding": {"text": {"field": "t"}}},
      {"width": 4, "height": 22, "data": {"values": []}, "mark": "point"},
      {"width": 105, "height": 22, "view": {"stroke": "#45b649", "strokeWidth": 2}, "data": {"values": [{"t": "Fumatori"}]}, "mark": {"type": "text", "fontWeight": "bold", "fontSize": 14.5, "baseline": "middle", "color": "#111"}, "encoding": {"text": {"field": "t"}}}
    ]},
    {"width": 10, "height": 9, "data": {"values": []}, "mark": "point"},
    {"spacing": 0, "hconcat": [
      {"width": 9, "height": 361, "data": {"values": []}, "mark": "point"},
      {
        "data": {"name": "score"},
        "transform": [{"filter": "datum.sesso === 'Uomini'"}],
        "facet": {
          "row": {"field": "eta", "type": "ordinal", "sort": "descending", "header": {"labels": false, "title": null}},
          "column": {"field": "fumo", "type": "nominal", "sort": ["no", "sì"], "header": {"labels": false, "title": null}}
        },
        "spacing": {"row": 14, "column": 15},
        "spec": {
          "width": 98, "height": 61,
          "encoding": {
            "x": {"field": "col", "type": "ordinal", "scale": {"paddingInner": 0, "paddingOuter": 0}, "axis": {"title": null, "labelAngle": 0, "ticks": false, "domain": false, "labelFontWeight": "bold", "labelFontSize": 9, "labelColor": "#2f3c7e", "labelPadding": 4}},
            "y": {"field": "pas", "type": "ordinal", "sort": "descending", "scale": {"paddingInner": 0, "paddingOuter": 0}, "axis": null}
          },
          "layer": [
            {"mark": {"type": "rect", "strokeWidth": 0.8, "clip": true}, "encoding": {
              "color": {"field": "rischio", "type": "quantitative", "scale": {"type": "threshold", "domain": [1, 2, 3, 5, 10, 15], "range": ["#1f9e49", "#86c440", "#f3e61b", "#f39321", "#e52a2b", "#c8202b", "#9d1b24"]}, "legend": null},
              "stroke": {"field": "rischio", "type": "quantitative", "scale": {"type": "threshold", "domain": [1, 2, 3, 5, 10, 15], "range": ["#1f9e49", "#86c440", "#f3e61b", "#f39321", "#e52a2b", "#c8202b", "#9d1b24"]}, "legend": null}}},
            {"mark": {"type": "text", "fontWeight": "bold", "fontSize": 10}, "encoding": {"text": {"field": "rischio"}, "color": {"condition": {"test": "datum.rischio === 0 || datum.rischio >= 10", "value": "#ffffff"}, "value": "#111111"}}}
          ]
        }
      }
    ]}
  ]},
  {"width": 136, "height": 10, "data": {"values": []}, "mark": "point"},
  {"spacing": 0, "vconcat": [
    {"width": 219, "height": 132, "data": {"values": []}, "mark": "point"},
    {"width": 219, "height": 115, "view": {"stroke": "#45b649", "strokeWidth": 2}, "data": {"name": "legenda"},
     "encoding": {"y": {"field": "categoria", "type": "nominal", "sort": null, "scale": {"type": "band", "paddingInner": 0, "paddingOuter": 0.37}, "axis": null}},
     "layer": [
       {"mark": {"type": "rect", "strokeWidth": 0.8}, "encoding": {"x": {"datum": 0.054, "type": "quantitative", "scale": {"domain": [0, 1]}, "axis": null}, "x2": {"datum": 0.137},
         "color": {"field": "soglia", "type": "quantitative", "scale": {"type": "threshold", "domain": [1, 2, 3, 5, 10, 15], "range": ["#1f9e49", "#86c440", "#f3e61b", "#f39321", "#e52a2b", "#c8202b", "#9d1b24"]}, "legend": null},
         "stroke": {"field": "soglia", "type": "quantitative", "scale": {"type": "threshold", "domain": [1, 2, 3, 5, 10, 15], "range": ["#1f9e49", "#86c440", "#f3e61b", "#f39321", "#e52a2b", "#c8202b", "#9d1b24"]}, "legend": null}}},
       {"mark": {"type": "text", "align": "left", "baseline": "middle", "fontWeight": "bold", "fontSize": 16, "color": "#111"}, "encoding": {"x": {"datum": 0.17, "type": "quantitative", "scale": {"domain": [0, 1]}, "axis": null}, "text": {"field": "categoria"}}}
     ]},
    {"width": 219, "height": 5, "data": {"values": []}, "mark": "point"},
    {"width": 219, "height": 163, "view": {"stroke": "#45b649", "strokeWidth": 2}, "data": {"name": "nota"},
     "mark": {"type": "text", "align": "left", "baseline": "middle", "fontWeight": "bold", "fontSize": 19.5, "color": "#111", "clip": true},
     "encoding": {"x": {"datum": 0.046, "type": "quantitative", "scale": {"domain": [0, 1]}, "axis": null}, "y": {"field": "riga", "type": "ordinal", "scale": {"type": "point", "padding": 0.976, "align": 0.35}, "axis": null}, "text": {"field": "testo"}}}
  ]}
]},
{"spacing": 0, "hconcat": [
  {"width": 251, "height": 28, "data": {"values": []}, "mark": "point"},
  {"spacing": 0, "vconcat": [
    {"width": 135, "height": 2, "data": {"values": []}, "mark": "point"},
    {"width": 135, "height": 25, "view": {"stroke": "#45b649", "strokeWidth": 2}, "data": {"values": [{"t": "Colesterolo (mmol/L)"}]}, "mark": {"type": "text", "font": "DejaVu Sans Condensed", "fontWeight": "bold", "fontSize": 13, "baseline": "middle", "color": "#111"}, "encoding": {"text": {"field": "t"}}}
  ]},
  {"width": 85, "height": 28, "data": {"values": []}, "mark": "point"},
  {"width": 98, "height": 1, "data": {"values": []}, "mark": "point",
   "encoding": {"x": {"field": "mgdl", "type": "quantitative", "scale": {"domain": [96, 337]}, "axis": {"values": [150, 200, 250, 300], "title": "mg/dl", "titleFontSize": 7, "titleFontWeight": "normal", "titleColor": "#555", "titlePadding": 1, "labelFontSize": 8, "labelColor": "#555", "tickColor": "#b07070", "domainColor": "#b07070", "tickSize": 3, "labelPadding": 1, "grid": false}}}}
]}
]
}
